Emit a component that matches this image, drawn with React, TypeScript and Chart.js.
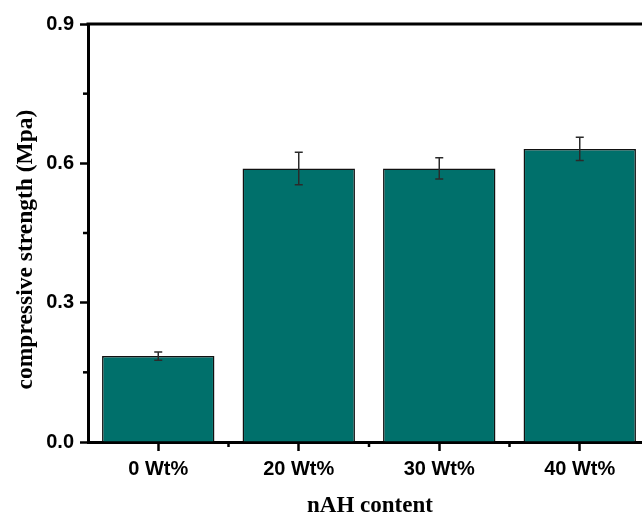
import React, { useEffect, useRef } from "react";
import { Chart, registerables } from "chart.js";

Chart.register(...registerables);

const categories = ["0 Wt%", "20 Wt%", "30 Wt%", "40 Wt%"];
const strength = [0.185, 0.589, 0.589, 0.631];
const errors = [0.009, 0.035, 0.023, 0.025];
const yMajorTicks = [0, 0.3, 0.6, 0.9];
const yMinorTicks = [0.15, 0.45, 0.75];
const xTitle = "nAH content";
const yTitle = "compressive strength (Mpa)";

const BAR_COLOR = "#00706B";
const SERIF = "'Liberation Serif', 'Times New Roman', serif";

const extrasPlugin = {
  id: "extras",
  afterDatasetsDraw(chart: any) {
    const ctx = chart.ctx;
    const y = chart.scales.y;
    const x = chart.scales.x;
    const meta = chart.getDatasetMeta(0);
    ctx.save();
    // error bars
    ctx.strokeStyle = "#2a2a2a";
    ctx.lineWidth = 1.5;
    meta.data.forEach((bar: any, i: number) => {
      const cx = bar.x;
      const top = y.getPixelForValue(strength[i] + errors[i]);
      const bot = y.getPixelForValue(strength[i] - errors[i]);
      ctx.beginPath();
      ctx.moveTo(cx, top);
      ctx.lineTo(cx, bot);
      ctx.moveTo(cx - 4, top);
      ctx.lineTo(cx + 4, top);
      ctx.moveTo(cx - 4, bot);
      ctx.lineTo(cx + 4, bot);
      ctx.stroke();
    });
    const area = chart.chartArea;
    ctx.strokeStyle = "#000";
    // top frame line
    ctx.lineWidth = 3;
    ctx.beginPath();
    ctx.moveTo(area.left - 1.5, area.top);
    ctx.lineTo(area.right, area.top);
    ctx.stroke();
    // minor ticks
    ctx.lineWidth = 2.5;
    yMinorTicks.forEach((v) => {
      const py = y.getPixelForValue(v);
      ctx.beginPath();
      ctx.moveTo(area.left - 5, py);
      ctx.lineTo(area.left, py);
      ctx.stroke();
    });
    for (let i = 0; i < categories.length - 1; i++) {
      const px = (x.getPixelForValue(i) + x.getPixelForValue(i + 1)) / 2;
      ctx.beginPath();
      ctx.moveTo(px, area.bottom);
      ctx.lineTo(px, area.bottom + 5);
      ctx.stroke();
    }
    // axis titles
    ctx.fillStyle = "#000";
    ctx.textAlign = "center";
    ctx.textBaseline = "alphabetic";
    ctx.font = `bold 23px ${SERIF}`;
    ctx.fillText(xTitle, 370, 512);
    ctx.translate(32, 249.5);
    ctx.rotate(-Math.PI / 2);
    ctx.font = `bold 23.5px ${SERIF}`;
    ctx.fillText(yTitle, 0, 0);
    ctx.restore();
  },
};

export default function App() {
  const ref = useRef<HTMLCanvasElement | null>(null);
  useEffect(() => {
    if (!ref.current) return;
    const chart = new Chart(ref.current, {
      type: "bar",
      data: {
        labels: categories,
        datasets: [
          {
            data: strength,
            backgroundColor: BAR_COLOR,
            borderColor: "#111",
            borderWidth: 1.5,
            barPercentage: 0.8,
            categoryPercentage: 1,
          },
        ],
      },
      options: {
        animation: false,
        responsive: false,
        maintainAspectRatio: false,
        layout: { padding: { top: 24, right: 10, left: 0, bottom: 0 } },
        plugins: { legend: { display: false }, tooltip: { enabled: false } },
        scales: {
          x: {
            afterFit: (s: any) => {
              s.height = 72;
            },
            grid: {
              offset: false,
              drawOnChartArea: false,
              tickLength: 9,
              tickWidth: 2.5,
              tickColor: "#000",
            },
            border: { color: "#000", width: 3 },
            ticks: {
              color: "#000",
              padding: 6,
              font: { family: "'Liberation Sans', Arial, sans-serif", weight: "bold", size: 20 },
            },
          },
          y: {
            min: 0,
            max: 0.9,
            afterFit: (s: any) => {
              s.width = 88;
            },
            afterBuildTicks: (s: any) => {
              s.ticks = yMajorTicks.map((v) => ({ value: v }));
            },
            grid: {
              drawOnChartArea: false,
              tickLength: 8,
              tickWidth: 2.5,
              tickColor: "#000",
            },
            border: { color: "#000", width: 3 },
            ticks: {
              color: "#000",
              padding: 6,
              callback: (v: any) => Number(v).toFixed(1),
              font: { family: "'Liberation Sans', Arial, sans-serif", weight: "bold", size: 20 },
            },
          },
        },
      },
      plugins: [extrasPlugin],
    });
    return () => chart.destroy();
  }, []);
  return (
    <div
      style={{
        position: "fixed",
        left: 0,
        top: 0,
        width: 642,
        height: 514,
        overflow: "hidden",
        background: "#fff",
      }}
    >
      <canvas ref={ref} width={660} height={514} style={{ display: "block" }} />
    </div>
  );
}
